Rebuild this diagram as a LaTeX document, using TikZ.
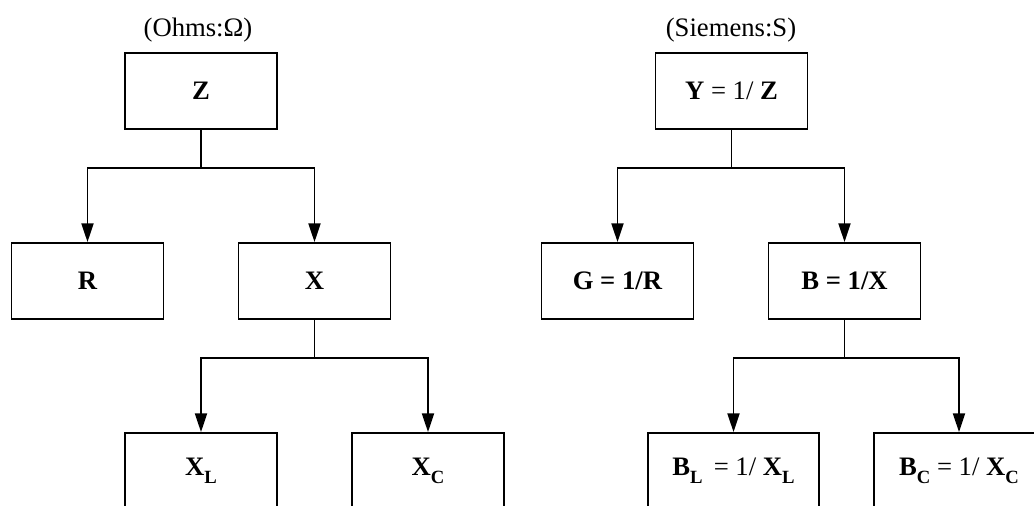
\documentclass[tikz,border=0pt]{standalone}
\usepackage{fontspec}
\setmainfont{Liberation Serif}
\usetikzlibrary{arrows.meta}

% lowered bold subscript, as the drawing sets it
\newcommand{\lowsub}[1]{\raisebox{-0.3em}{\fontsize{14}{14}\selectfont\bfseries #1}}

\tikzset{
    box/.style={draw, line width=1.4pt, minimum width=114pt, minimum height=57pt,
        inner sep=0pt, font=\fontsize{20}{24}\selectfont},
    widebox/.style={box, minimum width=128pt},
    title/.style={font=\fontsize{20}{24}\selectfont}
}

\begin{document}
\begin{tikzpicture}[x=0.75pt,y=-0.75pt,line width=1.4pt,>={Triangle[length=14pt,width=9pt]}]
        % page frame, the bottom row runs off the edge
        \clip (0,0) rectangle (1034,506);

        % impedance tree
        \node[title] (ohms) at (198,30) {(Ohms:Ω)};
        \node[box] (Z)  at (201,91)   {\textbf{Z}};
        \node[box] (R)  at (87.5,281) {\textbf{R}};
        \node[box] (X)  at (314.5,281) {\textbf{X}};
        \node[box] (XL) at (201,471)  {\textbf{X}\lowsub{L}};
        \node[box] (XC) at (428,471)  {\textbf{X}\lowsub{C}};

        % admittance tree
        \node[title] (siemens) at (731,30) {(Siemens:S)};
        \node[box] (Y)  at (731.5,91)  {\textbf{Y} = 1/ \textbf{Z}};
        \node[box] (G)  at (617.5,281) {\textbf{G = 1/R}};
        \node[box] (B)  at (844.5,281) {\textbf{B = 1/X}};
        \node[widebox] (BL) at (733.5,471) {\textbf{B}\lowsub{L} \,= 1/ \textbf{X}\lowsub{L}};
        \node[widebox] (BC) at (959,471)   {\textbf{B}\lowsub{C} = 1/ \textbf{X}\lowsub{C}};

        % branches: stem down, then split to both children
        \foreach \src/\lft/\rgt in {Z/R/X, X/XL/XC, Y/G/B, B/BL/BC} {
                \draw (\src.south) -- ++(0,38) coordinate (\src j);
                \draw[->] (\src j) -| (\lft.north);
                \draw[->] (\src j) -| (\rgt.north);
        }
\end{tikzpicture}
\end{document}
